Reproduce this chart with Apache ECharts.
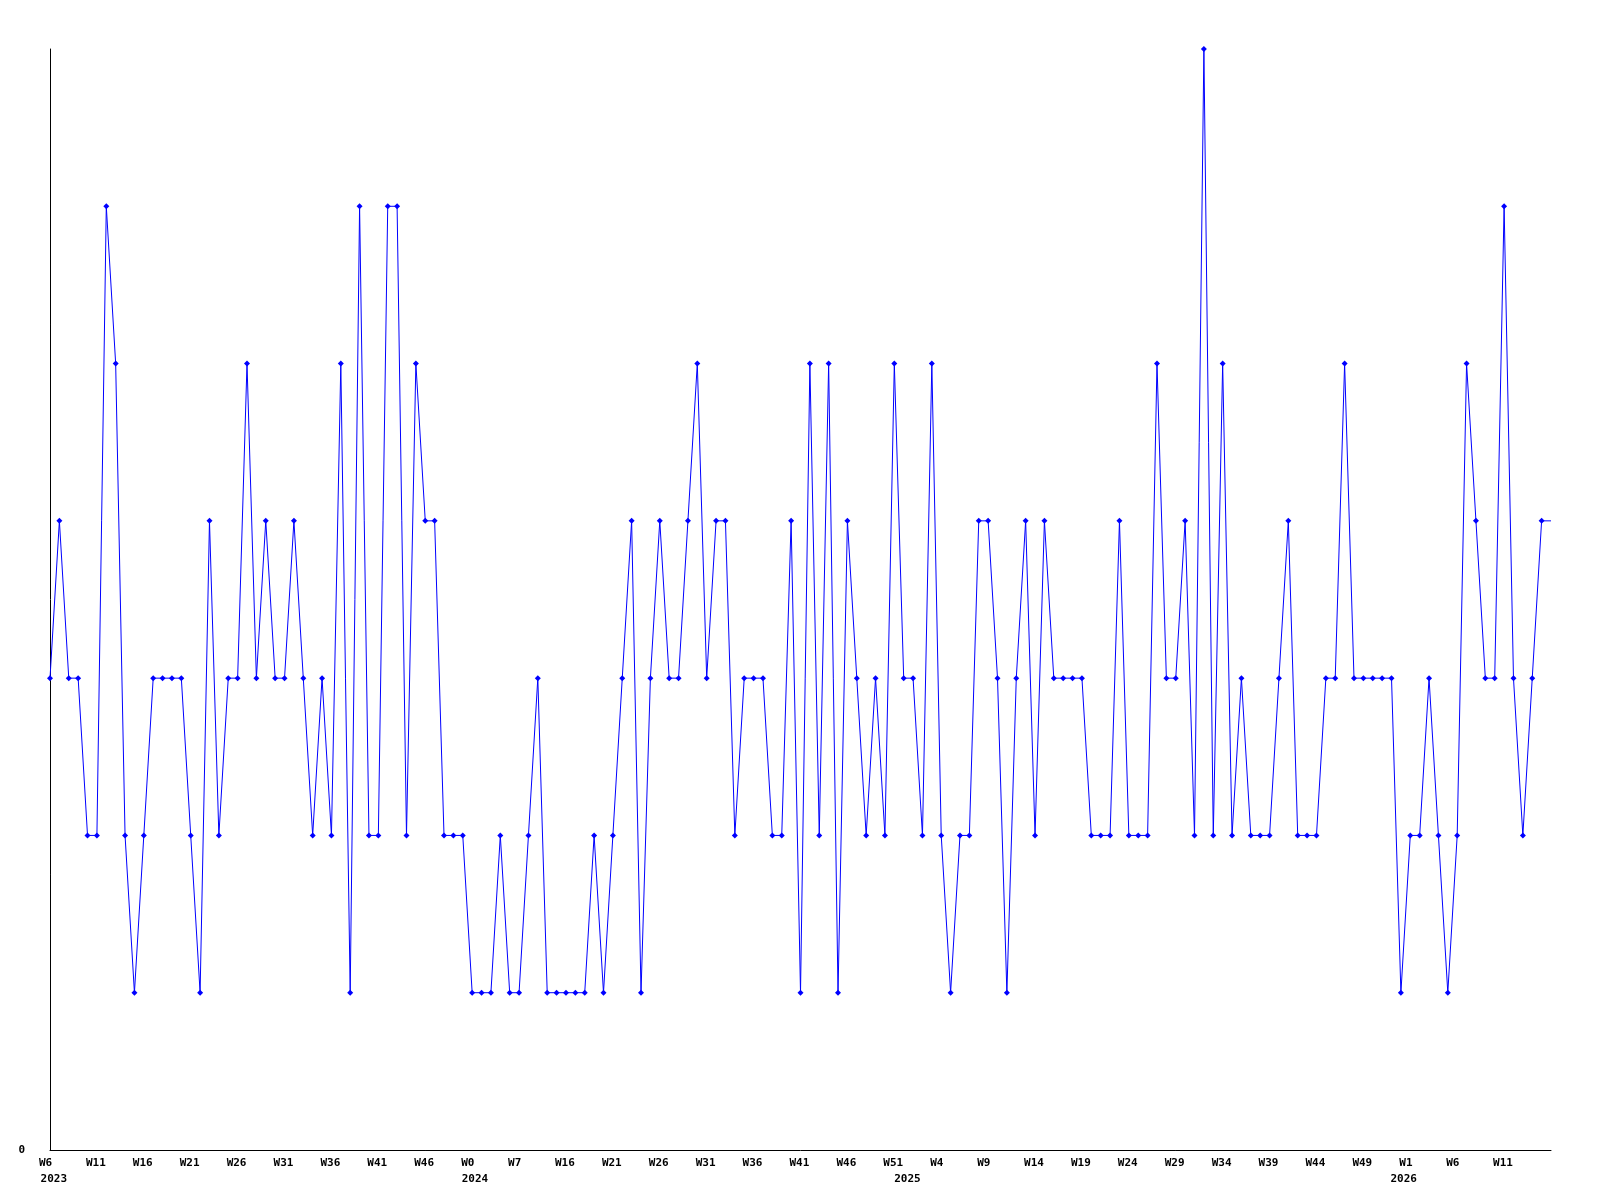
<!DOCTYPE html>
<html>
<head>
<meta charset="utf-8">
<script src="https://cdn.jsdelivr.net/npm/echarts@6/dist/echarts.min.js"></script>
<style>
html,body{margin:0;padding:0;background:#fff;}
#chart{width:1600px;height:1200px;}
</style>
</head>
<body>
<div id="chart"></div>
<script>
// Weekly values, one per week starting W6 2023
const values = [
  3,4,3,3,2,2,6,5,2,1,2,3,3,3,3,2,1,4,2,3,3,5,3,4,3,3,4,
  3,2,3,2,5,1,6,2,2,6,6,2,5,4,4,2,2,2,1,1,1,2,1,1,2,3,1,
  1,1,1,1,2,1,2,3,4,1,3,4,3,3,4,5,3,4,4,2,3,3,3,2,2,4,1,
  5,2,5,1,4,3,2,3,2,5,3,3,2,5,2,1,2,2,4,4,3,1,3,4,2,4,
  3,3,3,3,2,2,2,4,2,2,2,5,3,3,4,2,7,2,5,2,3,2,2,2,3,4,2,
  2,2,3,3,5,3,3,3,3,3,1,2,2,3,2,1,2,5,4,3,3,6,3,2,3,4
];
// Week tick labels, one every 5 weeks
const weekLabels = ['W6','W11','W16','W21','W26','W31','W36','W41','W46','W0','W7','W16','W21','W26','W31','W36','W41','W46','W51','W4','W9','W14','W19','W24','W29','W34','W39','W44','W49','W1','W6','W11'];
const labelStep = 5;
// Year labels and their positions on the week scale
const yearLabels = ['2023','2024','2025','2026'];
const yearTicks = [0.4, 45.3, 91.4, 144.3];

const weekTicks = weekLabels.map((_, k) => k * labelStep);
const xMax = values.length; // line continues one week past last point
const seriesData = values.map((v, i) => [i, v]);
seriesData.push({ value: [xMax, values[values.length - 1]], symbol: 'none' });

const font = { fontFamily: 'DejaVu Sans Mono', fontWeight: 'bold', fontSize: 11, color: '#000' };

const chart = echarts.init(document.getElementById('chart'), null, { renderer: 'canvas' });
chart.setOption({
  animation: false,
  backgroundColor: '#fff',
  grid: { left: 50, right: 49, top: 49, bottom: 50, containLabel: false },
  xAxis: [
    {
      type: 'value', min: 0, max: xMax, position: 'bottom',
      axisLine: { show: true, lineStyle: { color: '#000', width: 1 } },
      axisTick: { show: false },
      splitLine: { show: false },
      axisLabel: Object.assign({
        customValues: weekTicks,
        formatter: v => weekLabels[Math.round(v / labelStep)] || '',
        align: 'left', padding: [0, 0, 0, -11], margin: 8,
        showMinLabel: true, showMaxLabel: true, hideOverlap: false
      }, font)
    },
    {
      type: 'value', min: 0, max: xMax, position: 'bottom', gridIndex: 0,
      axisLine: { show: false },
      axisTick: { show: false },
      splitLine: { show: false },
      axisLabel: Object.assign({
        customValues: yearTicks,
        formatter: v => {
          let best = 0;
          yearTicks.forEach((t, k) => { if (Math.abs(t - v) < Math.abs(yearTicks[best] - v)) best = k; });
          return yearLabels[best];
        },
        align: 'center', margin: 24,
        showMinLabel: true, showMaxLabel: true, hideOverlap: false
      }, font)
    }
  ],
  yAxis: {
    type: 'value', min: 0, max: 7, interval: 7,
    axisLine: { show: true, lineStyle: { color: '#000', width: 1 } },
    axisTick: { show: false },
    splitLine: { show: false },
    axisLabel: Object.assign({
      formatter: v => (v === 0 ? '0' : ''),
      margin: 25
    }, font)
  },
  series: [{
    type: 'line',
    xAxisIndex: 0,
    data: seriesData,
    symbol: 'diamond',
    symbolSize: 6,
    showSymbol: true,
    lineStyle: { color: '#0000ff', width: 1 },
    itemStyle: { color: '#0000ff' },
    emphasis: { disabled: true }
  }]
});
</script>
</body>
</html>
